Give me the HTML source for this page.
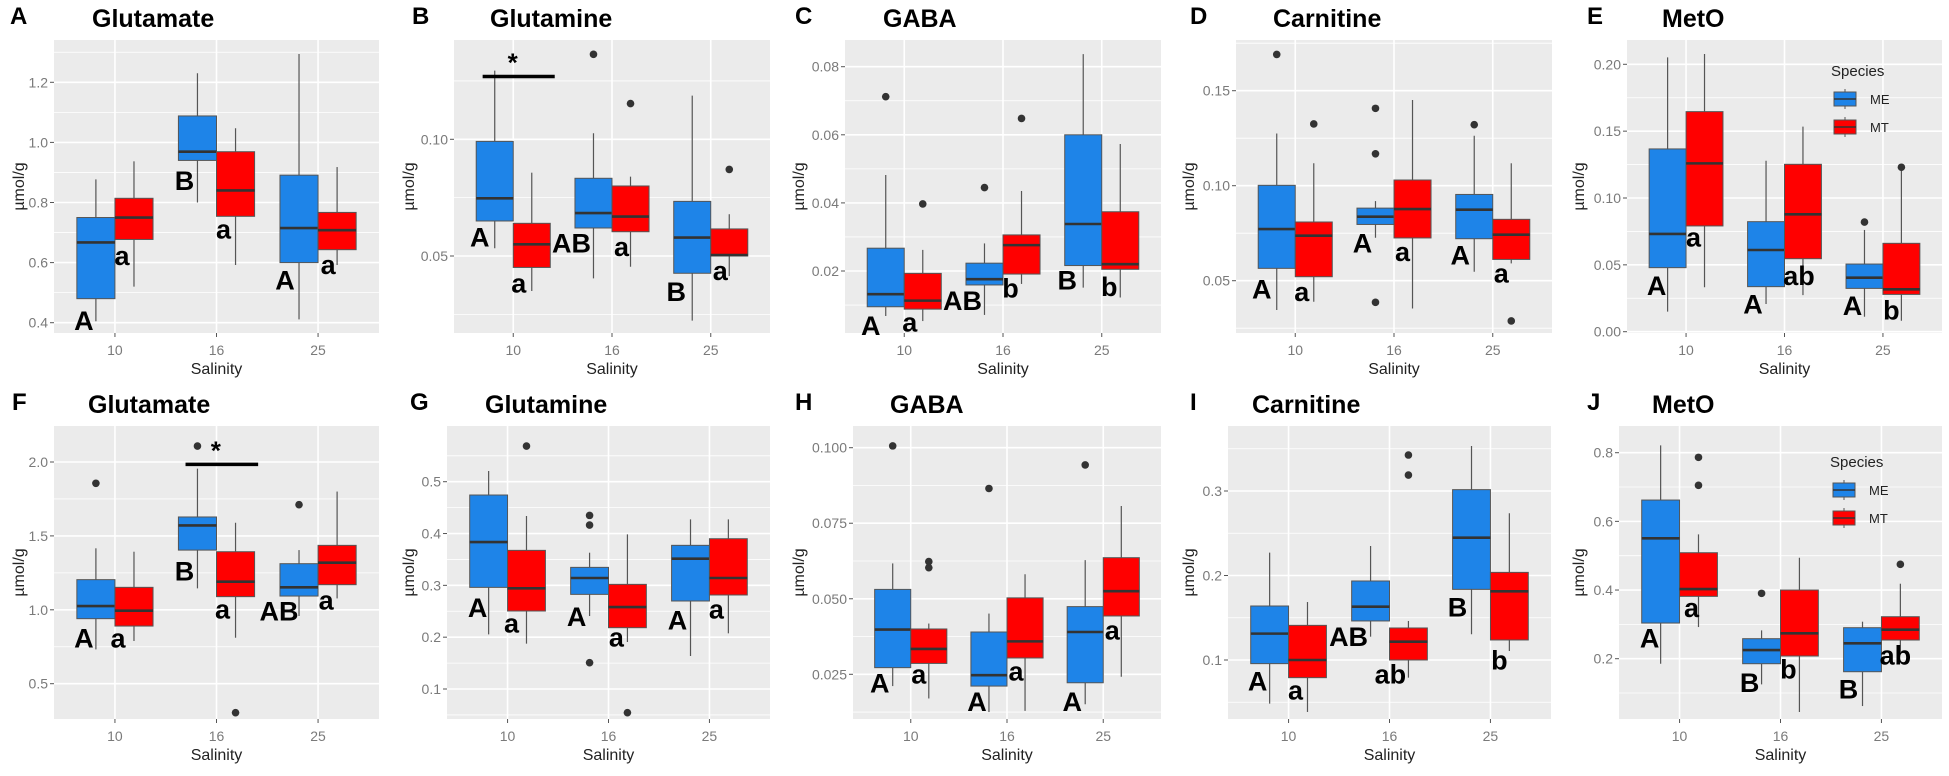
<!DOCTYPE html>
<html><head><meta charset="utf-8"><style>
html,body{margin:0;padding:0;background:#fff;}
svg{display:block;font-family:"Liberation Sans",Arial,sans-serif;}
</style></head><body>
<svg id="fig" width="1949" height="776" viewBox="0 0 1949 776" xmlns="http://www.w3.org/2000/svg"></svg>
<script>
const categories = ['10','16','25'];
const seriesNames = ['ME','MT'];
const seriesColors = ['#1E84E8','#FF0000'];
// [lo, q1, median, q3, hi] per salinity category
const A_ME=[[0.405,0.48,0.667,0.75,0.877],[0.80,0.94,0.969,1.088,1.23],[0.411,0.60,0.715,0.891,1.294]];
const A_MT=[[0.52,0.677,0.75,0.814,0.937],[0.592,0.754,0.84,0.969,1.047],[0.592,0.643,0.708,0.767,0.918]];
const A_OUT=[];
const A_TICKS=[0.4,0.6,0.8,1.0,1.2];
const A_TICKLABELS=['0.4','0.6','0.8','1.0','1.2'];
const A_LET=[[0,0,-12,0.375,'A'],[0,1,-12,0.592,'a'],[1,0,-13,0.842,'B'],[1,1,-12,0.68,'a'],[2,0,-14,0.51,'A'],[2,1,-9,0.562,'a']];

const B_ME=[[0.0533,0.065,0.0747,0.0991,0.1294],[0.0404,0.062,0.0684,0.0833,0.1026],[0.0223,0.0426,0.0579,0.0734,0.1187]];
const B_MT=[[0.035,0.0451,0.055,0.064,0.0857],[0.0454,0.0604,0.0669,0.080,0.084],[0.0414,0.050,0.0504,0.0616,0.0679]];
const B_OUT=[[1,0,0.1364],[1,1,0.1153],[2,1,0.0871]];
const B_TICKS=[0.05,0.10];
const B_TICKLABELS=['0.05','0.10'];
const B_LET=[[0,0,-15,0.054,'A'],[0,1,-13,0.0344,'a'],[1,0,-22,0.0516,'AB'],[1,1,-9,0.05,'a'],[2,0,-16,0.0307,'B'],[2,1,-9,0.0397,'a']];

const C_ME=[[0.0068,0.0095,0.0132,0.0267,0.0482],[0.0071,0.0159,0.0176,0.0223,0.0281],[0.0151,0.0216,0.0338,0.06,0.0837]];
const C_MT=[[0.0053,0.0088,0.0113,0.0193,0.0262],[0.0162,0.0191,0.0276,0.0306,0.0435],[0.0122,0.0205,0.022,0.0374,0.0573]];
const C_OUT=[[0,0,0.0712],[0,1,0.0397],[1,0,0.0445],[1,1,0.0648]];
const C_TICKS=[0.02,0.04,0.06,0.08];
const C_TICKLABELS=['0.02','0.04','0.06','0.08'];
const C_LET=[[0,0,-15,0.0012,'A'],[0,1,-13,0.0022,'a'],[1,0,-22,0.0086,'AB'],[1,1,-11,0.0122,'b'],[2,0,-16,0.0146,'B'],[2,1,-11,0.0127,'b']];

const D_ME=[[0.0346,0.0565,0.0772,0.1002,0.1275],[0.0726,0.0796,0.0837,0.0882,0.0919],[0.0547,0.0721,0.0874,0.0954,0.1263]];
const D_MT=[[0.0389,0.0521,0.0737,0.0809,0.1118],[0.0354,0.0725,0.0877,0.103,0.1451],[0.0591,0.0612,0.0742,0.0823,0.1118]];
const D_OUT=[[0,0,0.1691],[0,1,0.1325],[1,0,0.1407],[1,0,0.1168],[1,0,0.0386],[2,0,0.1321],[2,1,0.0288]];
const D_TICKS=[0.05,0.10,0.15];
const D_TICKLABELS=['0.05','0.10','0.15'];
const D_LET=[[0,0,-15,0.0407,'A'],[0,1,-12,0.0393,'a'],[1,0,-13,0.0649,'A'],[1,1,-10,0.0604,'a'],[2,0,-14,0.0586,'A'],[2,1,-10,0.049,'a']];

const E_ME=[[0.015,0.0479,0.0731,0.1367,0.2052],[0.0207,0.0337,0.0611,0.0823,0.1279],[0.0112,0.0324,0.0404,0.0506,0.0761]];
const E_MT=[[0.0332,0.0791,0.1259,0.1646,0.2077],[0.0274,0.0546,0.0878,0.1252,0.1534],[0.0082,0.0279,0.0317,0.0661,0.121]];
const E_OUT=[[2,0,0.082],[2,1,0.123]];
const E_TICKS=[0,0.05,0.10,0.15,0.20];
const E_TICKLABELS=['0.00','0.05','0.10','0.15','0.20'];
const E_LET=[[0,0,-11,0.0274,'A'],[0,1,-11,0.0636,'a'],[1,0,-13,0.0137,'A'],[1,1,-4,0.0349,'ab'],[2,0,-12,0.0125,'A'],[2,1,-10,0.0092,'b']];

const F_ME=[[0.732,0.94,1.025,1.204,1.416],[1.145,1.404,1.571,1.628,1.955],[0.958,1.093,1.152,1.312,1.404]];
const F_MT=[[0.789,0.89,0.994,1.152,1.393],[0.811,1.089,1.19,1.393,1.589],[1.077,1.17,1.319,1.436,1.80]];
const F_OUT=[[0,0,1.856],[1,0,2.108],[1,1,0.304],[2,0,1.711]];
const F_TICKS=[0.5,1.0,1.5,2.0];
const F_TICKLABELS=['0.5','1.0','1.5','2.0'];
const F_LET=[[0,0,-12,0.744,'A'],[0,1,-16,0.744,'a'],[1,0,-13,1.199,'B'],[1,1,-13,0.942,'a'],[2,0,-20,0.929,'AB'],[2,1,-11,1.003,'a']];

const G_ME=[[0.2055,0.2961,0.3836,0.4743,0.5206],[0.2408,0.2826,0.3142,0.3347,0.363],[0.1637,0.2698,0.3514,0.3772,0.4273]];
const G_MT=[[0.1875,0.2505,0.2942,0.3675,0.4338],[0.1907,0.2183,0.2582,0.3019,0.3984],[0.2074,0.2814,0.3142,0.39,0.4273]];
const G_OUT=[[0,1,0.5688],[1,0,0.435],[1,0,0.4164],[1,0,0.1508],[1,1,0.0543]];
const G_TICKS=[0.1,0.2,0.3,0.4,0.5];
const G_TICKLABELS=['0.1','0.2','0.3','0.4','0.5'];
const G_LET=[[0,0,-11,0.239,'A'],[0,1,-15,0.2087,'a'],[1,0,-13,0.2215,'A'],[1,1,-11,0.1817,'a'],[2,0,-13,0.2151,'A'],[2,1,-12,0.2363,'a']];

const H_ME=[[0.0211,0.0272,0.0398,0.0531,0.0617],[0.0125,0.0211,0.0247,0.039,0.0451],[0.0151,0.0222,0.039,0.0474,0.0628]];
const H_MT=[[0.017,0.0286,0.0334,0.04,0.0418],[0.0129,0.0304,0.0359,0.0503,0.0581],[0.0242,0.0443,0.0525,0.0636,0.0807]];
const H_OUT=[[0,0,0.1006],[0,1,0.0623],[0,1,0.0603],[1,0,0.0865],[2,0,0.0943]];
const H_TICKS=[0.025,0.05,0.075,0.1];
const H_TICKLABELS=['0.025','0.050','0.075','0.100'];
const H_LET=[[0,0,-13,0.019,'A'],[0,1,-10,0.022,'a'],[1,0,-12,0.0129,'A'],[1,1,-9,0.023,'a'],[2,0,-13,0.0129,'A'],[2,1,-9,0.0366,'a']];

const I_ME=[[0.0483,0.0957,0.1312,0.1639,0.227],[0.1276,0.1462,0.1631,0.1935,0.2349],[0.1304,0.1836,0.2448,0.3016,0.3533]];
const I_MT=[[0.0385,0.0791,0.1,0.141,0.1686],[0.0791,0.1,0.1217,0.1379,0.1462],[0.1107,0.1237,0.1813,0.2037,0.2736]];
const I_OUT=[[1,1,0.3426],[1,1,0.3189]];
const I_TICKS=[0.1,0.2,0.3];
const I_TICKLABELS=['0.1','0.2','0.3'];
const I_LET=[[0,0,-12,0.064,'A'],[0,1,-12,0.0534,'a'],[1,0,-22,0.1166,'AB'],[1,1,-18,0.072,'ab'],[2,0,-14,0.1513,'B'],[2,1,-10,0.089,'b']];

const J_ME=[[0.1854,0.3039,0.5505,0.6621,0.8214],[0.1252,0.1854,0.2252,0.2583,0.2825],[0.0621,0.1621,0.2447,0.2903,0.3078]];
const J_MT=[[0.2922,0.3816,0.4029,0.5087,0.5621],[0.0447,0.2078,0.2738,0.4,0.4942],[0.2175,0.2544,0.2845,0.3223,0.4184]];
const J_OUT=[[0,1,0.7864],[0,1,0.7049],[1,0,0.3903],[2,1,0.4748]];
const J_TICKS=[0.2,0.4,0.6,0.8];
const J_TICKLABELS=['0.2','0.4','0.6','0.8'];
const J_LET=[[0,0,-11,0.232,'A'],[0,1,-7,0.3214,'a'],[1,0,-12,0.103,'B'],[1,1,-11,0.143,'b'],[2,0,-14,0.0835,'B'],[2,1,-5,0.1835,'ab']];

const NS='http://www.w3.org/2000/svg';
const svg=document.getElementById('fig');
function mk(tag,attrs,parent,text){const e=document.createElementNS(NS,tag);for(const k in attrs)e.setAttribute(k,attrs[k]);if(text!==undefined)e.textContent=text;(parent||svg).appendChild(e);return e;}

const panels=[
 {id:'a',tag:'A',title:'Glutamate',tagX:10,titleX:92,base:0,x0:54,x1:379,ref:[1.2,82.3,0.4,322.7],me:A_ME,mt:A_MT,out:A_OUT,ticks:A_TICKS,tl:A_TICKLABELS,let:A_LET},
 {id:'b',tag:'B',title:'Glutamine',tagX:412,titleX:490,base:0,x0:454,x1:770,ref:[0.10,139.3,0.05,256],me:B_ME,mt:B_MT,out:B_OUT,ticks:B_TICKS,tl:B_TICKLABELS,let:B_LET,sig:[0,-0.31,0.42,0.1269]},
 {id:'c',tag:'C',title:'GABA',tagX:795,titleX:883,base:0,x0:845,x1:1161,ref:[0.08,66.7,0.02,271],me:C_ME,mt:C_MT,out:C_OUT,ticks:C_TICKS,tl:C_TICKLABELS,let:C_LET},
 {id:'d',tag:'D',title:'Carnitine',tagX:1190,titleX:1273,base:0,x0:1236,x1:1552,ref:[0.15,90.7,0.05,280.7],me:D_ME,mt:D_MT,out:D_OUT,ticks:D_TICKS,tl:D_TICKLABELS,let:D_LET},
 {id:'e',tag:'E',title:'MetO',tagX:1587,titleX:1662,base:0,x0:1627,x1:1942,ref:[0.2,64.3,0,331.7],me:E_ME,mt:E_MT,out:E_OUT,ticks:E_TICKS,tl:E_TICKLABELS,let:E_LET,legend:[1833,70]},
 {id:'f',tag:'F',title:'Glutamate',tagX:12,titleX:88,base:386,x0:54,x1:379,ref:[2.0,462,0.5,683.7],me:F_ME,mt:F_MT,out:F_OUT,ticks:F_TICKS,tl:F_TICKLABELS,let:F_LET,sig:[1,-0.305,0.41,1.984]},
 {id:'g',tag:'G',title:'Glutamine',tagX:410,titleX:485,base:386,x0:447,x1:770,ref:[0.5,481.7,0.1,689],me:G_ME,mt:G_MT,out:G_OUT,ticks:G_TICKS,tl:G_TICKLABELS,let:G_LET},
 {id:'h',tag:'H',title:'GABA',tagX:795,titleX:890,base:386,x0:853,x1:1161,ref:[0.1,447.7,0.025,674.3],me:H_ME,mt:H_MT,out:H_OUT,ticks:H_TICKS,tl:H_TICKLABELS,let:H_LET},
 {id:'i',tag:'I',title:'Carnitine',tagX:1190,titleX:1252,base:386,x0:1228,x1:1551,ref:[0.3,491,0.1,660],me:I_ME,mt:I_MT,out:I_OUT,ticks:I_TICKS,tl:I_TICKLABELS,let:I_LET},
 {id:'j',tag:'J',title:'MetO',tagX:1587,titleX:1652,base:386,x0:1619,x1:1942,ref:[0.8,452.7,0.2,658.7],me:J_ME,mt:J_MT,out:J_OUT,ticks:J_TICKS,tl:J_TICKLABELS,let:J_LET,legend:[1832,461]}
];

function drawPanel(p){
  const g=mk('g',{});
  
  
  const y0=40+p.base, y1=333+p.base;
  const [v1,p1,v2,p2]=p.ref;
  const ys=v=>p1+(v-v1)*(p2-p1)/(v2-v1);
  const xs=(c,off)=>p.x0+(c+0.6+off)/3.2*(p.x1-p.x0);
  const unit=(p.x1-p.x0)/3.2;
  const bg=mk('rect',{x:p.x0,y:y0,width:p.x1-p.x0,height:y1-y0,fill:'#EBEBEB'},g);
  
  
  // minor grid
  const step=p.ticks.length>1?p.ticks[1]-p.ticks[0]:0.05;
  for(let k=-3;k<p.ticks.length+3;k++){
    const v=p.ticks[0]+(k+0.5)*step;const y=ys(v);
    if(y>y0&&y<y1){const l=mk('line',{x1:p.x0,x2:p.x1,y1:y,y2:y,stroke:'#fff','stroke-width':0.8},g);
      }
  }
  // major grid + ticks
  p.ticks.forEach((v,i)=>{const y=ys(v);
    const l=mk('line',{x1:p.x0,x2:p.x1,y1:y,y2:y,stroke:'#fff','stroke-width':1.6},g);
    
    mk('line',{x1:p.x0-4,x2:p.x0,y1:y,y2:y,stroke:'#555','stroke-width':1},g);
    const t=mk('text',{x:p.x0-6,y:y+5,'text-anchor':'end','font-size':14,fill:'#7a7a7a'},g,p.tl[i]);
    
  });
  categories.forEach((c,i)=>{const x=xs(i,0);
    const l=mk('line',{x1:x,x2:x,y1:y0,y2:y1,stroke:'#fff','stroke-width':1.6},g);
    
    mk('line',{x1:x,x2:x,y1:y1,y2:y1+4,stroke:'#555','stroke-width':1},g);
    const t=mk('text',{x:x,y:y1+22,'text-anchor':'middle','font-size':14,fill:'#7a7a7a'},g,c);
    
  });
  const xt=mk('text',{x:(p.x0+p.x1)/2,y:y1+41,'text-anchor':'middle','font-size':16,fill:'#222'},g,'Salinity');
  
  const yc=(y0+y1)/2;
  const yt=mk('text',{x:0,y:0,transform:'translate('+(p.x0-37 < 24 ? 24 : 24 + (p.tag==='B'?390:p.tag==='C'?780:p.tag==='D'?1170:p.tag==='E'?1560:p.tag==='G'?390:p.tag==='H'?780:p.tag==='I'?1170:p.tag==='J'?1560:0))+','+yc+') rotate(-90)','text-anchor':'middle','font-size':16,fill:'#222'},g,'µmol/g');
  
  // boxes
  [p.me,p.mt].forEach((ser,s)=>{
    ser.forEach((st,i)=>{
      const cx=xs(i,s===0?-0.1875:0.1875), w=unit*0.375;
      const bx=mk('g',{},g);
      
      
      mk('line',{x1:cx,x2:cx,y1:ys(st[0]),y2:ys(st[4]),stroke:'#555','stroke-width':1.2},bx);
      mk('rect',{x:cx-w/2,y:ys(st[3]),width:w,height:ys(st[1])-ys(st[3]),fill:seriesColors[s],stroke:'#555','stroke-width':1},bx);
      mk('line',{x1:cx-w/2,x2:cx+w/2,y1:ys(st[2]),y2:ys(st[2]),stroke:'#333','stroke-width':2.6},bx);
    });
  });
  p.out.forEach(o=>{const c=mk('circle',{cx:xs(o[0],o[1]===0?-0.1875:0.1875),cy:ys(o[2]),r:3.8,fill:'#333'},g);
    });
  p.let.forEach(l=>{const t=mk('text',{x:xs(l[0],l[1]===0?-0.1875:0.1875)+l[2],y:ys(l[3]),'text-anchor':'middle','font-size':27,'font-weight':'bold',fill:'#000'},g,l[4]);
    });
  if(p.sig){const s=p.sig;const y=ys(s[3]);
    const b=mk('line',{x1:xs(s[0],s[1]),x2:xs(s[0],s[2]),y1:y,y2:y,stroke:'#000','stroke-width':3.5},g);
    
    const st=mk('text',{x:xs(s[0],(s[1]+s[2])/2)-6,y:y-5,'text-anchor':'middle','font-size':26,'font-weight':'bold',fill:'#000'},g,'*');
    }
  const tg=mk('text',{x:p.tagX,y:24+p.base,'font-size':24,'font-weight':'bold',fill:'#000'},g,p.tag);
  
  const ti=mk('text',{x:p.titleX,y:27+p.base,'font-size':25,'font-weight':'bold',fill:'#000'},g,p.title);
  
  if(p.legend){const [lx,ly]=p.legend;
    const lg=mk('g',{},g);
    
    mk('text',{x:lx-2,y:ly+6,'font-size':15,fill:'#222'},lg,'Species');
    seriesNames.forEach((n,k)=>{const ky=ly+22+k*28;
      const e=mk('g',{},lg);
      
      mk('line',{x1:lx+12,x2:lx+12,y1:ky-3,y2:ky+17,stroke:'#555','stroke-width':1},e);
      mk('rect',{x:lx+1,y:ky,width:22,height:14,fill:seriesColors[k],stroke:'#555','stroke-width':1},e);
      mk('line',{x1:lx+1,x2:lx+23,y1:ky+7,y2:ky+7,stroke:'#333','stroke-width':1.5},e);
      mk('text',{x:lx+37,y:ky+12,'font-size':13,fill:'#222'},e,n);
    });
  }
}
panels.forEach(drawPanel);
</script>
</body></html>
